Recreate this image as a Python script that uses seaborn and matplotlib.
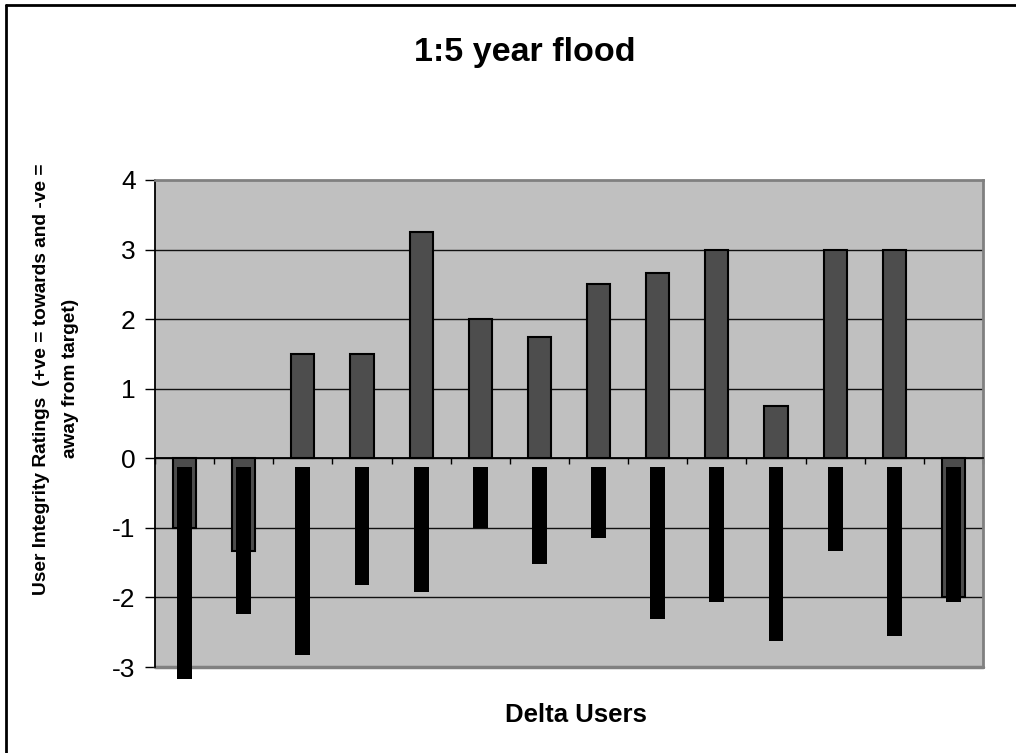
import matplotlib
matplotlib.use("Agg")
import matplotlib.pyplot as plt
from matplotlib.lines import Line2D
import seaborn as sns
import pandas as pd

# Delta users and their integrity ratings
users = [f"U{i}" for i in range(1, 15)]
ratings = [-1.0, -1.33, 1.5, 1.5, 3.25, 2.0, 1.75, 2.5, 2.67, 3.0, 0.75, 3.0, 3.0, -2.0]
# lower range of each user's rating spread
range_low = [-3.17, -2.24, -2.83, -1.82, -1.92, -1.0, -1.52, -1.14,
             -2.31, -2.06, -2.62, -1.33, -2.55, -2.06]
range_top = -0.13
y_ticks = [-3, -2, -1, 0, 1, 2, 3, 4]

df = pd.DataFrame({"user": users, "rating": ratings})

sns.set_theme(style="white")
plt.rcParams["font.family"] = ["Liberation Sans", "DejaVu Sans"]
plt.rcParams["text.color"] = "black"

fig = plt.figure(figsize=(10.16, 7.53), dpi=100)
ax = fig.add_axes([0.1526, 0.1142, 0.8149, 0.6468])
ax.set_facecolor("#c0c0c0")

# horizontal gridlines behind the bars
for v in y_ticks[1:-1]:
    ax.axhline(v, color="#111111", lw=1.0, zorder=0.5)

sns.barplot(data=df, x="user", y="rating", ax=ax, color="#4d4d4d",
            saturation=1, width=0.39, edgecolor="black", linewidth=1.5,
            zorder=2)

# spread bars hanging below zero
xs = list(range(len(users)))
ax.bar(xs, [lo - range_top for lo in range_low], bottom=range_top,
       width=0.25, color="black", edgecolor="black", linewidth=0,
       zorder=3, clip_on=False)

ax.set_ylim(-3, 4)
ax.set_xlim(-0.5, len(users) - 0.5)
ax.set_yticks(y_ticks)
ax.set_yticklabels([str(v) for v in y_ticks], fontsize=19)
ax.set_xticks([])
ax.set_xticks([i + 0.5 for i in range(-1, len(users))], minor=True)
ax.tick_params(axis="y", direction="out", length=7, width=1, pad=7,
               left=True, colors="black", labelcolor="black")
ax.tick_params(axis="x", which="minor", direction="out", length=4, width=1,
               bottom=True, colors="black")

# x axis runs along zero; frame of the plotting area in grey
ax.spines["bottom"].set_position(("data", 0))
ax.spines["bottom"].set_color("black")
ax.spines["bottom"].set_linewidth(1.3)
ax.spines["bottom"].set_zorder(4)
ax.spines["left"].set_color("black")
ax.spines["left"].set_linewidth(1.3)
for s in ("top", "right"):
    ax.spines[s].set_color("#808080")
    ax.spines[s].set_linewidth(2)
ax.axhline(-3, color="#808080", lw=2.5, clip_on=False, zorder=1)

ax.set_xlabel("")
ax.set_ylabel("")

fig.text(0.516, 0.930, "1:5 year flood", ha="center", va="center",
         fontsize=24.5, fontweight="bold", color="black")
fig.text(0.567, 0.050, "Delta Users", ha="center", va="center",
         fontsize=18.5, fontweight="bold", color="black")
fig.text(0.055, 0.497,
         "User Integrity Ratings  (+ve = towards and -ve =\naway from target)",
         ha="center", va="center", rotation=90, fontsize=13.8,
         fontweight="bold", linespacing=1.95, color="black")

# outer frame of the chart
fig.add_artist(Line2D([6 / 1016, 1.0], [1 - 5 / 753, 1 - 5 / 753],
                      transform=fig.transFigure, color="black", lw=2))
fig.add_artist(Line2D([6 / 1016, 6 / 1016], [0.0, 1 - 5 / 753],
                      transform=fig.transFigure, color="black", lw=2))

fig.savefig("out.png", dpi=100)
